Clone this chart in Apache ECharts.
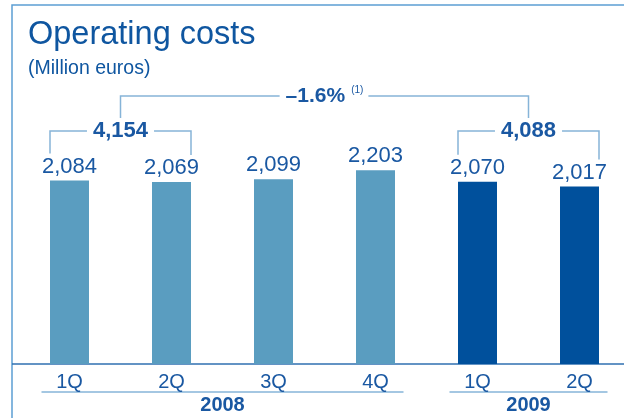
<!DOCTYPE html>
<html>
<head>
<meta charset="utf-8">
<script src="https://cdn.jsdelivr.net/npm/echarts@6/dist/echarts.min.js"></script>
<style>
  html, body { margin: 0; padding: 0; background: #fff; }
  #chart { width: 624px; height: 418px; }
</style>
</head>
<body>
<div id="chart"></div>
<script>
// Quarterly operating costs (million euros)
const quarters = ['1Q', '2Q', '3Q', '4Q', '1Q', '2Q'];
const costs = [2084, 2069, 2099, 2203, 2070, 2017];
const barColors = ['#5a9dc0', '#5a9dc0', '#5a9dc0', '#5a9dc0', '#00509c', '#00509c'];
const years = ['2008', '2009'];
const yearSpans = [[0, 3], [4, 5]];          // first/last quarter index of each year
const halfYearPairs = [[0, 1], [4, 5]];      // first half of each year
const halfYearTotals = [4154, 4088];
const changeLabel = '\u20131.6%';
const changeNote = '(1)';

const BLUE = '#1a58a2';
const LINE = '#86b4d8';
const FONT = '"Liberation Sans", Arial, Helvetica, sans-serif';
const NARROW = '"Liberation Sans Narrow", "Arial Narrow", "Liberation Sans", sans-serif';
const BAR_W = 39;

const chart = echarts.init(document.getElementById('chart'), null, { renderer: 'canvas' });

const fmt = v => v.toLocaleString('en-US');

chart.setOption({
  animation: false,
  backgroundColor: '#fff',
  title: [
    { text: 'Operating costs', left: 28, top: 19, padding: 0,
      textStyle: { fontFamily: FONT, fontSize: 32.5, fontWeight: 'normal', color: '#0f56a0' } },
    { text: '(Million euros)', left: 28, top: 59, padding: 0,
      textStyle: { fontFamily: FONT, fontSize: 19.5, fontWeight: 'normal', color: '#0f56a0' } }
  ],
  grid: { left: 18.5, width: 612, top: 144, height: 220, outerBoundsMode: 'none', containLabel: false },
  xAxis: {
    type: 'category',
    data: quarters,
    axisLine: { show: false },
    axisTick: { show: false },
    axisLabel: { margin: 8, fontFamily: NARROW, fontSize: 20, color: BLUE }
  },
  yAxis: { type: 'value', min: 0, max: 2500, show: false },
  series: [{
    type: 'bar',
    barWidth: BAR_W,
    data: costs.map((v, i) => ({ value: v, itemStyle: { color: barColors[i] } })),
    label: {
      show: true, position: 'top', distance: 3,
      fontFamily: FONT, fontSize: 22, color: BLUE,
      formatter: p => fmt(p.value)
    }
  }]
});

// Annotation layer: frame, axis rule, half-year brackets, year bands
const ctx = document.createElement('canvas').getContext('2d');
function textWidth(str, font) { ctx.font = font; return ctx.measureText(str).width; }
const px = (i, v) => chart.convertToPixel({ xAxisIndex: 0, yAxisIndex: 0 }, [i, v]);

const gfx = [];
const lineStyle = { stroke: LINE, lineWidth: 1.5, fill: null };

// frame
gfx.push({ type: 'polyline', shape: { points: [[12, 418], [12, 5], [624, 5]] },
  style: { stroke: '#5c9fd4', lineWidth: 1.5, fill: null } });
// baseline
const base = px(0, 0)[1];
gfx.push({ type: 'line', shape: { x1: 12, y1: base, x2: 624, y2: base },
  style: { stroke: '#2f6fb0', lineWidth: 1.5 } });

// half-year brackets
const bracketY = 131;
const totalFont = 'bold 22px ' + FONT;
const groupCenters = [];
halfYearPairs.forEach(([a, b], k) => {
  const pa = px(a, costs[a]), pb = px(b, costs[b]);
  const xL = pa[0] - BAR_W / 2, xR = pb[0] + BAR_W / 2;
  const cx = (xL + xR) / 2;
  groupCenters.push(cx);
  const label = fmt(halfYearTotals[k]);
  const w = textWidth(label, totalFont);
  gfx.push({ type: 'polyline', shape: { points: [[xL, pa[1] - 27], [xL, bracketY], [cx - w / 2 - 6, bracketY]] }, style: lineStyle });
  gfx.push({ type: 'polyline', shape: { points: [[cx + w / 2 + 6, bracketY], [xR, bracketY], [xR, pb[1] - 27]] }, style: lineStyle });
  gfx.push({ type: 'text', x: cx, y: bracketY, style: {
    text: label, font: totalFont, fill: BLUE, align: 'center', verticalAlign: 'middle' } });
});

// year-on-year change bracket
const topY = 96;
const changeFont = 'bold 21px ' + FONT;
const noteFont = '10px ' + FONT;
const cw = textWidth(changeLabel, changeFont);
const nw = textWidth(changeNote, noteFont);
const mid = (groupCenters[0] + groupCenters[1]) / 2;
const startX = mid - (cw + 6 + nw) / 2;
gfx.push({ type: 'polyline', shape: { points: [[groupCenters[0], 118], [groupCenters[0], topY], [startX - 6, topY]] }, style: lineStyle });
gfx.push({ type: 'polyline', shape: { points: [[startX + cw + 6 + nw + 5, topY], [groupCenters[1], topY], [groupCenters[1], 118]] }, style: lineStyle });
gfx.push({ type: 'text', x: startX, y: topY, style: {
  text: changeLabel, font: changeFont, fill: BLUE, align: 'left', verticalAlign: 'middle' } });
gfx.push({ type: 'text', x: startX + cw + 6, y: topY - 6, style: {
  text: changeNote, font: noteFont, fill: BLUE, align: 'left', verticalAlign: 'middle' } });

// year bands under the quarter labels
yearSpans.forEach(([a, b], k) => {
  const x1 = px(a, 0)[0] - 28, x2 = px(b, 0)[0] + 28;
  gfx.push({ type: 'line', shape: { x1, y1: 392, x2, y2: 392 }, style: { stroke: LINE, lineWidth: 1.5 } });
  gfx.push({ type: 'text', x: (x1 + x2) / 2, y: 405, style: {
    text: years[k], font: 'bold 20px ' + FONT, fill: BLUE, align: 'center', verticalAlign: 'middle' } });
});

chart.setOption({ graphic: { elements: gfx } });
</script>
</body>
</html>
